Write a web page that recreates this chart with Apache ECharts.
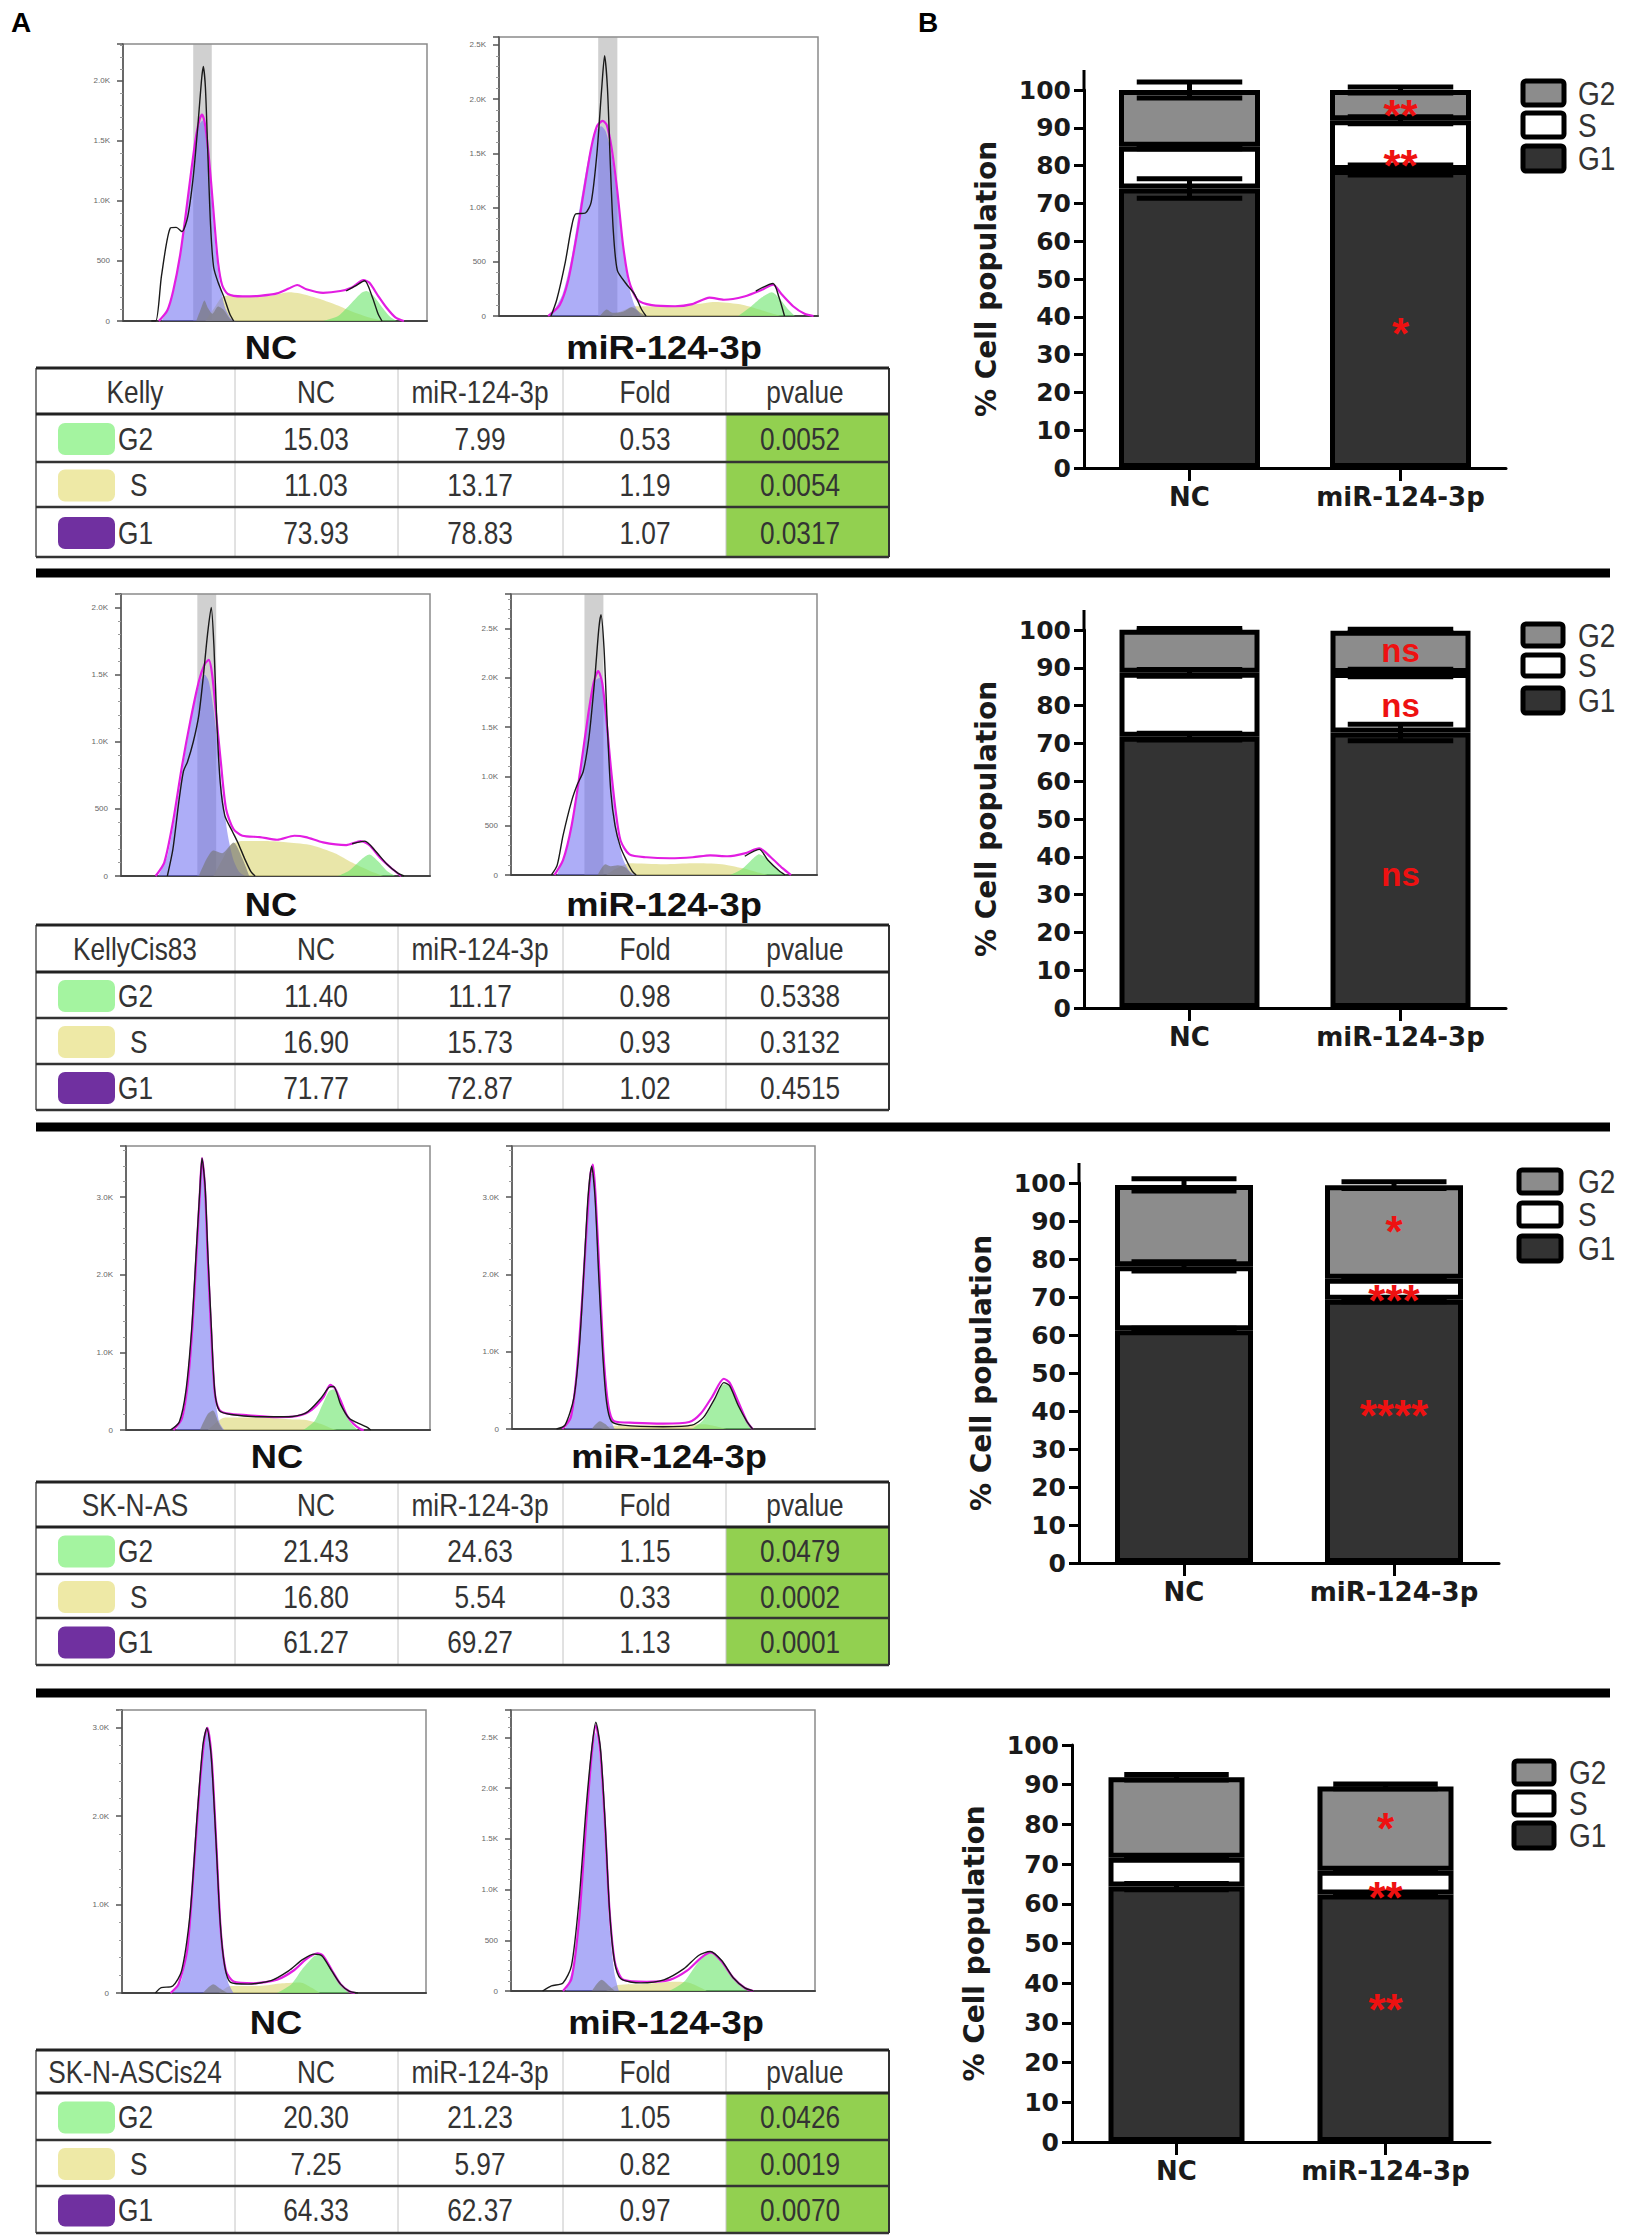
<!DOCTYPE html>
<html>
<head>
<meta charset="utf-8">
<script src="https://cdn.jsdelivr.net/npm/echarts@6/dist/echarts.min.js"></script>
<style>
html, body { margin: 0; padding: 0; background: #fff; }
#main { width: 1645px; height: 2237px; }
</style>
</head>
<body>
<div id="main"></div>
<script>
// ---- cell cycle percentages, [NC, miR-124-3p] ----
var groups = ['NC', 'miR-124-3p'];
var phaseNames = ['G2', 'S', 'G1'];

var kellyG1 = [73.93, 78.83], kellyS = [11.03, 13.17], kellyG2 = [15.03, 7.99];
var kellyFold = [0.53, 1.19, 1.07], kellyP = [0.0052, 0.0054, 0.0317];
var kellyErr = {g1: [2.6, 1.3], s: [0.5, 0.9], g2: [2.1, 0.8]};
var kellyNotes = ['*', '**', '**'], kellyNoteY = [38.3, 82.7, 96];

var cis83G1 = [71.77, 72.87], cis83S = [16.90, 15.73], cis83G2 = [11.40, 11.17];
var cis83Fold = [0.98, 0.93, 1.02], cis83P = [0.5338, 0.3132, 0.4515];
var cis83Err = {g1: [0.9, 2.2], s: [0.9, 1.0], g2: [0.3, 0.4]};
var cis83Notes = ['ns', 'ns', 'ns'], cis83NoteY = [35.4, 80, 94.5];

var asG1 = [61.27, 69.27], asS = [16.80, 5.54], asG2 = [21.43, 24.63];
var asFold = [1.15, 0.33, 1.13], asP = [0.0479, 0.0002, 0.0001];
var asErr = {g1: [0.5, 0.5], s: [1.2, 0.4], g2: [1.6, 0.9]};
var asNotes = ['****', '***', '*'], asNoteY = [41.4, 71.7, 89.8];

var cis24G1 = [64.33, 62.37], cis24S = [7.25, 5.97], cis24G2 = [20.30, 21.23];
var cis24Fold = [1.05, 0.82, 0.97], cis24P = [0.0426, 0.0019, 0.0070];
var cis24Err = {g1: [0.8, 0.2], s: [0.2, 0.2], g2: [0.7, 0.6]};
var cis24Notes = ['**', '**', '*'], cis24NoteY = [35.8, 64, 81.6];

// ---- DNA histograms: [channel % of plot width, count] ----
var kellyNcBlack = [[9.3,0],[10.8,0],[12.7,384],[15.6,775],[17.5,780],[19.4,745],[21.3,870],[23.1,1200],[24.7,1650],[25.8,2000],[26.4,2120],[27.1,1950],[27.9,1400],[28.8,800],[29.8,450],[31.3,320],[33.2,200],[35.1,60],[36.4,0],[50,null],[73.4,250],[76.3,290],[79.5,335],[82.0,200],[83.9,60],[85.2,0]];
var kellyNcFit = [[11.8,0],[14.6,90],[16.5,250],[18.8,550],[20.7,900],[22.6,1280],[24.1,1550],[25.2,1680],[26.0,1720],[26.9,1650],[27.9,1450],[29.0,1150],[30.2,780],[31.3,480],[32.6,300],[34.5,225],[39.3,205],[45.0,210],[50.7,230],[54.5,270],[57.3,300],[60.3,265],[65.8,235],[71.5,250],[75.3,280],[79.1,340],[81.0,320],[83.9,210],[86.7,110],[89.6,30],[92.4,0]];
var kellyNcG1 = [[12.7,0],[15.6,150],[18.4,480],[20.7,880],[22.8,1270],[24.3,1550],[25.4,1650],[26.2,1670],[27.1,1580],[28.2,1300],[29.4,950],[30.7,550],[32.1,280],[33.6,110],[35.5,20],[37.0,0]];
var kellyNcS = [[27.1,0],[29.8,100],[32.6,200],[35.5,215],[41.2,200],[48.8,210],[54.5,240],[58.3,230],[64.0,190],[69.6,140],[75.3,80],[81.0,30],[85.8,0]];
var kellyNcG2 = [[65.8,0],[70.6,40],[74.4,130],[78.2,230],[80.1,250],[82.0,220],[84.8,130],[87.7,40],[90.1,0]];
var kellyNcDebris = [[24.1,0],[25.6,100],[26.8,170],[27.9,110],[29.4,60],[31.3,120],[33.2,90],[35.1,20],[36.4,0]];
var kellyNcGate = [[23.1, 29.2]];

var kellyMirBlack = [[16.3,0],[18.1,150],[20.8,500],[22.6,800],[24.0,940],[27.1,950],[28.9,1050],[30.7,1500],[32.2,2100],[33.1,2400],[34.0,2100],[34.9,1400],[35.8,800],[37.1,420],[39.8,300],[42.5,200],[44.7,60],[46.1,0],[60,null],[80.5,230],[85.9,300],[87.7,180],[89.5,0]];
var kellyMirFit = [[15.4,0],[19.0,100],[21.7,330],[24.4,750],[26.6,1150],[28.9,1550],[30.7,1750],[32.5,1800],[33.8,1760],[35.3,1550],[37.1,1150],[38.9,650],[40.7,330],[43.4,150],[47.9,100],[55.2,90],[60.6,110],[66.0,170],[70.5,150],[76.9,180],[82.3,240],[85.9,290],[88.6,200],[92.2,90],[95.8,20],[98.6,0]];
var kellyMirG1 = [[16.3,0],[19.9,200],[22.6,520],[25.3,1000],[28.0,1450],[30.2,1700],[32.0,1750],[33.5,1700],[35.3,1480],[37.1,1100],[38.9,620],[40.7,280],[42.5,100],[44.7,0]];
var kellyMirS = [[35.3,0],[38.9,50],[42.5,90],[51.5,90],[60.6,105],[67.8,130],[75.0,110],[80.5,70],[85.9,20],[88.6,0]];
var kellyMirG2 = [[75.0,0],[78.7,80],[82.3,170],[85.5,220],[87.7,170],[90.4,70],[92.8,0]];
var kellyMirDebris = [[31.6,0],[33.8,60],[35.6,30],[38.9,40],[41.6,80],[43.9,40],[46.1,0]];
var kellyMirGate = [[31.1, 37.1]];

var cis83NcBlack = [[15.0,0],[16.8,200],[18.7,550],[20.2,780],[21.5,850],[23.4,1000],[25.2,1200],[26.7,1500],[28.0,1800],[29.2,2000],[30.1,1700],[31.0,1150],[32.1,700],[33.6,450],[36.1,330],[37.8,250],[40.2,120],[42.1,30],[43.4,0],[60,null],[74.8,240],[78.9,260],[82.2,190],[86.0,90],[89.7,20],[91.6,0]];
var cis83NcFit = [[11.2,0],[14.0,100],[16.8,400],[19.6,800],[22.4,1150],[25.2,1450],[27.1,1580],[28.4,1610],[29.5,1500],[30.8,1200],[32.3,850],[34.0,500],[36.4,350],[39.3,300],[44.9,290],[50.5,270],[56.1,300],[59.8,290],[65.4,250],[72.9,230],[77.6,260],[80.4,230],[84.1,130],[87.9,50],[90.7,0]];
var cis83NcG1 = [[12.1,0],[15.0,150],[17.8,500],[20.6,900],[23.4,1250],[25.6,1450],[27.1,1500],[28.4,1450],[29.9,1250],[31.4,950],[32.9,600],[34.6,300],[36.4,120],[38.3,30],[40.2,0]];
var cis83NcS = [[29.9,0],[32.7,120],[35.5,230],[39.3,260],[46.7,260],[54.2,250],[61.7,230],[69.2,170],[74.8,100],[80.4,40],[85.0,0]];
var cis83NcG2 = [[70.1,0],[73.8,40],[77.6,120],[80.4,160],[83.2,110],[86.0,40],[88.8,0]];
var cis83NcDebris = [[25.2,0],[29.9,190],[32.7,170],[36.4,250],[39.3,130],[41.5,0]];
var cis83NcGate = [[24.7, 30.8]];

var cis83MirBlack = [[13.2,0],[15.1,100],[17.0,400],[19.8,750],[21.7,920],[23.6,1050],[25.5,1400],[27.4,2000],[28.7,2500],[29.4,2640],[30.4,2300],[31.5,1500],[32.6,850],[34.0,500],[35.8,280],[37.7,150],[39.6,40],[40.9,0],[60,null],[76.4,190],[81.1,260],[84.0,150],[87.7,40],[89.6,0]];
var cis83MirFit = [[14.2,0],[17.0,150],[19.8,500],[22.6,1050],[25.1,1600],[27.0,1950],[28.5,2070],[29.8,1950],[31.1,1600],[32.6,1100],[34.2,650],[35.8,350],[38.7,210],[44.3,180],[51.9,170],[59.4,180],[65.1,200],[70.8,190],[76.4,220],[81.1,270],[84.9,180],[88.7,70],[91.5,0]];
var cis83MirG1 = [[15.1,0],[17.9,250],[20.8,650],[23.6,1250],[25.8,1700],[27.5,1970],[28.9,2000],[30.2,1850],[31.5,1450],[33.0,900],[34.5,480],[36.4,180],[38.7,40],[40.6,0]];
var cis83MirS = [[31.1,0],[34.0,60],[38.7,120],[50.0,110],[59.4,120],[68.9,110],[75.5,70],[80.2,30],[84.0,0]];
var cis83MirG2 = [[71.7,0],[75.5,60],[79.2,170],[81.1,210],[83.0,180],[85.8,90],[88.7,20],[90.0,0]];
var cis83MirDebris = [[28.3,0],[30.8,110],[32.6,90],[34.9,100],[37.2,80],[39.6,0]];
var cis83MirGate = [[24.0, 30.2]];

var asNcBlack = [[14.6,0],[17.5,100],[19.7,500],[21.6,1300],[23.1,2300],[24.3,3100],[25.0,3500],[26.0,3150],[26.9,2300],[28.1,1300],[29.2,500],[30.7,250],[34.5,200],[44.0,170],[53.5,170],[59.2,220],[63.9,400],[66.8,550],[68.3,560],[70.6,330],[73.4,150],[76.3,90],[79.1,40],[80.5,0]];
var asNcFit = [[15.6,0],[18.4,150],[20.3,600],[21.8,1300],[23.1,2200],[24.3,3050],[25.0,3500],[26.0,3100],[26.9,2200],[28.1,1200],[29.2,480],[30.7,260],[33.6,210],[40.2,190],[49.7,165],[56.4,180],[61.1,260],[64.9,420],[67.2,580],[68.7,540],[70.6,380],[72.5,200],[74.8,80],[77.2,10],[78.2,0]];
var asNcG1 = [[16.5,0],[19.0,200],[20.7,700],[22.2,1500],[23.5,2500],[24.5,3200],[25.2,3450],[26.2,3050],[27.1,2100],[28.3,1100],[29.4,400],[30.7,100],[32.3,0]];
var asNcS = [[26.9,0],[29.8,100],[32.6,160],[44.0,160],[53.5,140],[59.2,130],[64.0,80],[67.7,20],[69.6,0]];
var asNcG2 = [[58.3,0],[62.1,120],[64.9,350],[66.8,500],[68.3,520],[70.2,380],[72.5,180],[74.8,50],[76.3,0]];
var asNcDebris = [[24.3,0],[26.8,200],[28.6,250],[30.6,80],[31.9,0]];

var asMirBlack = [[14.7,0],[17.5,50],[20.4,400],[22.3,1100],[23.8,2100],[25.1,3000],[26.3,3400],[27.4,3000],[28.6,2000],[29.9,1000],[31.2,350],[32.8,100],[36.6,50],[49.9,30],[59.4,50],[63.2,150],[67.0,400],[69.9,600],[71.8,560],[74.7,300],[77.5,100],[79.4,0]];
var asMirFit = [[16.6,0],[19.4,150],[21.3,700],[23.2,1700],[24.8,2700],[25.9,3300],[26.7,3420],[27.6,3000],[29.0,1900],[30.3,900],[31.8,300],[33.7,100],[40.4,80],[49.9,70],[58.5,90],[62.3,200],[66.1,420],[69.9,650],[71.8,600],[74.7,350],[77.5,100],[79.4,0]];
var asMirG1 = [[17.5,0],[19.8,250],[21.7,900],[23.4,1900],[24.9,2900],[26.1,3300],[27.0,3300],[28.2,2600],[29.3,1700],[30.9,700],[32.4,150],[33.9,0]];
var asMirS = [[29.0,0],[32.8,40],[40.4,50],[55.6,50],[63.2,60],[67.9,30],[70.9,0]];
var asMirG2 = [[59.4,0],[63.2,120],[67.0,380],[69.9,580],[71.8,560],[74.7,320],[77.5,90],[79.4,0]];
var asMirDebris = [[26.3,0],[29.0,100],[30.9,60],[32.4,0]];

var cis24NcBlack = [[11.0,0],[12.9,60],[16.7,80],[19.6,250],[22.4,900],[24.7,2000],[26.6,2800],[27.9,3000],[29.3,2700],[30.8,1800],[32.3,800],[33.8,300],[35.7,120],[41.4,100],[49.0,140],[54.8,250],[59.5,380],[63.3,440],[65.8,420],[69.0,250],[71.9,100],[74.7,20],[77.6,0]];
var cis24NcFit = [[16.0,0],[18.6,100],[21.5,500],[23.8,1500],[25.7,2400],[27.2,2900],[28.1,3000],[29.5,2650],[31.0,1700],[32.5,700],[34.2,250],[36.7,130],[43.3,110],[51.0,150],[56.7,260],[60.5,380],[64.3,450],[66.2,420],[69.0,260],[71.9,100],[74.7,20],[76.6,0]];
var cis24NcG1 = [[16.7,0],[19.6,150],[22.1,700],[24.3,1700],[26.2,2600],[27.6,2950],[28.7,2900],[30.0,2300],[31.6,1300],[33.1,500],[34.8,130],[36.7,0]];
var cis24NcS = [[31.9,0],[35.7,80],[45.2,80],[52.8,110],[58.6,120],[62.4,60],[65.2,0]];
var cis24NcG2 = [[51.0,0],[55.7,100],[59.5,280],[63.3,420],[65.2,430],[68.1,300],[71.0,130],[73.8,30],[75.7,0]];
var cis24NcDebris = [[26.6,0],[30.0,100],[32.3,50],[34.6,0]];

var cis24MirBlack = [[10.4,0],[13.3,50],[17.1,80],[19.9,250],[22.4,900],[24.7,1800],[26.6,2400],[27.9,2650],[29.4,2400],[30.9,1700],[32.4,800],[34.0,300],[36.1,120],[42.7,80],[50.3,110],[56.9,220],[61.7,350],[65.5,390],[69.3,300],[73.1,130],[76.9,30],[79.7,0]];
var cis24MirFit = [[17.1,0],[19.9,120],[22.4,700],[24.7,1650],[26.6,2350],[27.9,2620],[29.4,2350],[30.9,1650],[32.4,800],[34.2,280],[37.0,110],[44.6,90],[52.2,110],[57.9,200],[62.6,330],[65.8,380],[69.3,290],[73.1,130],[76.9,30],[79.7,0]];
var cis24MirG1 = [[18.0,0],[20.5,250],[22.8,900],[24.9,1750],[26.6,2300],[27.9,2550],[29.4,2250],[30.9,1500],[32.4,650],[34.0,180],[35.5,0]];
var cis24MirS = [[31.3,0],[35.1,60],[44.6,70],[54.1,90],[58.8,80],[62.6,30],[64.5,0]];
var cis24MirG2 = [[52.2,0],[56.9,90],[60.7,250],[64.5,370],[66.4,380],[69.3,290],[73.1,120],[76.9,20],[78.7,0]];
var cis24MirDebris = [[26.6,0],[29.8,110],[32.3,50],[34.2,0]];

// ---- layout ----
var NARROW = '"Liberation Sans", Arial, sans-serif';
var BOLD = '"DejaVu Sans", sans-serif';
var COLS = [36, 235, 398, 563, 726, 889];
var COL_MID = [135, 316, 480, 645, 805];

var histPanels = [
  {box: [123, 44, 427, 321], yMax: 2308, step: 500, gate: kellyNcGate, black: kellyNcBlack, fit: kellyNcFit, g1: kellyNcG1, s: kellyNcS, g2: kellyNcG2, debris: kellyNcDebris},
  {box: [499, 37, 818, 316], yMax: 2573, step: 500, gate: kellyMirGate, black: kellyMirBlack, fit: kellyMirFit, g1: kellyMirG1, s: kellyMirS, g2: kellyMirG2, debris: kellyMirDebris},
  {box: [121, 594, 430, 876], yMax: 2101, step: 500, gate: cis83NcGate, black: cis83NcBlack, fit: cis83NcFit, g1: cis83NcG1, s: cis83NcS, g2: cis83NcG2, debris: cis83NcDebris},
  {box: [511, 594, 817, 875], yMax: 2851, step: 500, gate: cis83MirGate, black: cis83MirBlack, fit: cis83MirFit, g1: cis83MirG1, s: cis83MirS, g2: cis83MirG2, debris: cis83MirDebris},
  {box: [126, 1146, 430, 1430], yMax: 3657, step: 1000, gate: null, black: asNcBlack, fit: asNcFit, g1: asNcG1, s: asNcS, g2: asNcG2, debris: asNcDebris},
  {box: [512, 1146, 815, 1429], yMax: 3660, step: 1000, gate: null, black: asMirBlack, fit: asMirFit, g1: asMirG1, s: asMirS, g2: asMirG2, debris: asMirDebris},
  {box: [122, 1710, 426, 1993], yMax: 3202, step: 1000, gate: null, black: cis24NcBlack, fit: cis24NcFit, g1: cis24NcG1, s: cis24NcS, g2: cis24NcG2, debris: cis24NcDebris},
  {box: [511, 1710, 815, 1991], yMax: 2771, step: 500, gate: null, black: cis24MirBlack, fit: cis24MirFit, g1: cis24MirG1, s: cis24MirS, g2: cis24MirG2, debris: cis24MirDebris}
];

var sections = [
  {name: 'Kelly', g1: kellyG1, s: kellyS, g2: kellyG2, fold: kellyFold, p: kellyP, err: kellyErr, notes: kellyNotes, noteY: kellyNoteY,
   labelY: 348, labelX: [271, 664], table: [368, 414, 462, 507, 557],
   bars: {left: 1084, top: 90, width: 422, bottom: 468, barW: 141, ext: 70, nameGap: 84},
   legend: {x: 1523, w: 41, ys: [[81, 105], [113, 137], [146, 171]], tx: 1578}},
  {name: 'KellyCis83', g1: cis83G1, s: cis83S, g2: cis83G2, fold: cis83Fold, p: cis83P, err: cis83Err, notes: cis83Notes, noteY: cis83NoteY,
   labelY: 905, labelX: [271, 664], table: [925, 972, 1018, 1064, 1110],
   bars: {left: 1084, top: 630, width: 422, bottom: 1008, barW: 140, ext: 610, nameGap: 84},
   legend: {x: 1523, w: 40, ys: [[624, 646], [655, 676], [688, 713]], tx: 1578}},
  {name: 'SK-N-AS', g1: asG1, s: asS, g2: asG2, fold: asFold, p: asP, err: asErr, notes: asNotes, noteY: asNoteY,
   labelY: 1457, labelX: [277, 669], table: [1482, 1527, 1574, 1618, 1665],
   bars: {left: 1079, top: 1183, width: 420, bottom: 1563, barW: 138, ext: 1163, nameGap: 84},
   legend: {x: 1519, w: 42, ys: [[1170, 1193], [1203, 1226], [1236, 1261]], tx: 1578}},
  {name: 'SK-N-ASCis24', g1: cis24G1, s: cis24S, g2: cis24G2, fold: cis24Fold, p: cis24P, err: cis24Err, notes: cis24Notes, noteY: cis24NoteY,
   labelY: 2023, labelX: [276, 666], table: [2050, 2093, 2140, 2186, 2233],
   bars: {left: 1072, top: 1745, width: 418, bottom: 2142, barW: 136, ext: null, nameGap: 84},
   legend: {x: 1514, w: 40, ys: [[1761, 1784], [1792, 1815], [1823, 1848]], tx: 1569}}
];
var separators = [573, 1127, 1693];

var grids = [], xAxes = [], yAxes = [], series = [], graphics = [];

function textEl(x, y, s, font, fill, align, sx) {
  return {type: 'text', x: x, y: y, scaleX: sx || 1, silent: true,
    style: {text: s, font: font, fill: fill || '#333', textAlign: align || 'center', align: align || 'center',
      textVerticalAlign: 'middle', verticalAlign: 'middle'}};
}
function lineEl(x1, y1, x2, y2, w, color) {
  return {type: 'line', silent: true, shape: {x1: x1, y1: y1, x2: x2, y2: y2}, style: {stroke: color, lineWidth: w}};
}
function rectEl(x, y, w, h, fill, r, stroke, lw) {
  return {type: 'rect', silent: true, shape: {x: x, y: y, width: w, height: h, r: r || 0},
    style: {fill: fill, stroke: stroke || null, lineWidth: lw || 0}};
}
function kFmt(v) {
  return v === 0 ? '0' : v < 1000 ? String(v) : (v / 1000).toFixed(1) + 'K';
}
function gateItem(params, api) {
  var a = api.coord([api.value(0), 0]);
  var b = api.coord([api.value(1), 0]);
  var cs = params.coordSys;
  return {type: 'rect', shape: {x: a[0], y: cs.y, width: b[0] - a[0], height: cs.height},
    style: {fill: 'rgba(150,150,150,0.45)'}};
}

function addHist(p) {
  var gi = grids.length;
  grids.push({left: p.box[0], top: p.box[1], width: p.box[2] - p.box[0], height: p.box[3] - p.box[1],
    show: true, borderColor: '#8a8a8a', borderWidth: 1.5, backgroundColor: 'transparent', containLabel: false});
  xAxes.push({gridIndex: gi, type: 'value', min: 0, max: 100,
    axisLine: {show: true, onZero: false, lineStyle: {color: '#444', width: 2}},
    axisTick: {show: false}, axisLabel: {show: false}, splitLine: {show: false}});
  yAxes.push({gridIndex: gi, type: 'value', min: 0, max: p.yMax, interval: p.step,
    axisLine: {show: true, lineStyle: {color: '#555', width: 1.5}},
    axisTick: {show: true, length: 6, lineStyle: {color: '#555', width: 1.5}},
    minorTick: {show: true, splitNumber: 5, length: 3, lineStyle: {color: '#999'}},
    axisLabel: {fontSize: 8, color: '#666', margin: 13, showMaxLabel: false, formatter: kFmt},
    splitLine: {show: false}, minorSplitLine: {show: false}});
  function area(data, color, z) {
    return {type: 'line', xAxisIndex: gi, yAxisIndex: gi, data: data, showSymbol: false, symbol: 'none',
      smooth: 0.25, silent: true, z: z, lineStyle: {width: 0, opacity: 0}, areaStyle: {color: color, opacity: 1}};
  }
  function trace(data, color, w, z) {
    return {type: 'line', xAxisIndex: gi, yAxisIndex: gi, data: data, showSymbol: false, symbol: 'none',
      smooth: 0.25, silent: true, z: z, connectNulls: false, lineStyle: {color: color, width: w}};
  }
  if (p.gate) {
    series.push({type: 'custom', xAxisIndex: gi, yAxisIndex: gi, data: p.gate, renderItem: gateItem, silent: true, z: 1});
  }
  series.push(area(p.s, 'rgba(226,221,140,0.75)', 2));
  series.push(area(p.g2, 'rgba(105,228,105,0.6)', 3));
  series.push(area(p.g1, 'rgba(105,105,240,0.55)', 4));
  series.push(area(p.debris, 'rgba(120,120,120,0.65)', 5));
  series.push(trace(p.fit, '#e21de2', 2.2, 6));
  series.push(trace(p.black, '#1a1a1a', 1.4, 7));
}

function errItem(tops, errs) {
  return function (params, api) {
    var i = api.value(0);
    var hi = api.coord([i, tops[params.dataIndex] + errs[params.dataIndex]]);
    var lo = api.coord([i, tops[params.dataIndex] - errs[params.dataIndex]]);
    var half = api.size([1, 0])[0] * 0.25;
    var st = {stroke: '#000', lineWidth: 5};
    return {type: 'group', children: [
      {type: 'line', shape: {x1: hi[0], y1: hi[1], x2: lo[0], y2: lo[1]}, style: st},
      {type: 'line', shape: {x1: hi[0] - half, y1: hi[1], x2: hi[0] + half, y2: hi[1]}, style: st},
      {type: 'line', shape: {x1: lo[0] - half, y1: lo[1], x2: lo[0] + half, y2: lo[1]}, style: st}
    ]};
  };
}

function addBars(sec) {
  var b = sec.bars, gi = grids.length;
  grids.push({left: b.left, top: b.top, width: b.width, height: b.bottom - b.top, show: false, containLabel: false});
  xAxes.push({gridIndex: gi, type: 'category', data: groups,
    axisLine: {show: true, lineStyle: {color: '#000', width: 3}},
    axisTick: {show: true, alignWithLabel: true, length: 13, lineStyle: {color: '#000', width: 3}},
    axisLabel: {interval: 0, hideOverlap: false, fontFamily: BOLD, fontWeight: 'bold', fontSize: 26, color: '#1a1a1a', margin: 16},
    splitLine: {show: false}});
  yAxes.push({gridIndex: gi, type: 'value', min: 0, max: 100, interval: 10,
    name: '% Cell population', nameLocation: 'middle', nameGap: b.nameGap,
    nameTextStyle: {fontFamily: BOLD, fontWeight: 'bold', fontSize: 28, color: '#1a1a1a'},
    axisLine: {show: true, lineStyle: {color: '#000', width: 3}},
    axisTick: {show: true, length: 10, lineStyle: {color: '#000', width: 3}},
    axisLabel: {fontFamily: BOLD, fontWeight: 'bold', fontSize: 25, color: '#1a1a1a', margin: 13},
    splitLine: {show: false}});
  var stack = [sec.g1, sec.s, sec.g2];
  var errs = [sec.err.g1, sec.err.s, sec.err.g2];
  var fills = ['#333333', '#ffffff', '#8c8c8c'];
  var base = [0, 0];
  stack.forEach(function (vals, k) {
    series.push({type: 'bar', xAxisIndex: gi, yAxisIndex: gi, stack: 'cells' + gi, data: vals, barWidth: b.barW,
      silent: true, z: 2, itemStyle: {color: fills[k], borderColor: '#000', borderWidth: 5}});
    var tops = [base[0] + vals[0], base[1] + vals[1]];
    base = tops;
    series.push({type: 'custom', xAxisIndex: gi, yAxisIndex: gi, silent: true, z: 4,
      data: [[0, tops[0]], [1, tops[1]]], renderItem: errItem(tops, errs[k])});
  });
  var notes = sec.notes;
  series.push({type: 'custom', xAxisIndex: gi, yAxisIndex: gi, silent: true, z: 6,
    data: sec.noteY.map(function (y) { return [1, y]; }),
    renderItem: function (params, api) {
      var t = notes[params.dataIndex];
      var pt = api.coord([1, api.value(1)]);
      var star = t.charAt(0) === '*';
      return {type: 'text', x: pt[0], y: pt[1] + (star ? 10 : 0),
        style: {text: t, fill: '#ee1111', font: 'bold ' + (star ? 44 : 33) + 'px ' + NARROW,
          textAlign: 'center', align: 'center', textVerticalAlign: 'middle', verticalAlign: 'middle'}};
    }});
  if (b.ext !== null) graphics.push(lineEl(b.left, b.ext, b.left, b.top, 3, '#000'));
  // legend boxes
  var lg = sec.legend, legendFill = ['#8c8c8c', '#ffffff', '#333333'];
  phaseNames.forEach(function (nm, k) {
    var y0 = lg.ys[k][0], y1 = lg.ys[k][1];
    graphics.push(rectEl(lg.x, y0, lg.w, y1 - y0, legendFill[k], 3, '#000', 5));
    graphics.push(textEl(lg.tx, (y0 + y1) / 2, nm, 'normal 33px ' + NARROW, '#333', 'left', 0.85));
  });
}

function addTable(sec) {
  var t = sec.table, top = t[0];
  var nc = [sec.g2[0], sec.s[0], sec.g1[0]];
  var mir = [sec.g2[1], sec.s[1], sec.g1[1]];
  var swatch = ['#a4f4a0', '#eee9a6', '#7030a0'];
  var tf = 'normal 32px ' + NARROW;
  for (var r = 0; r < 3; r++) {
    if (sec.p[r] < 0.05) graphics.push(rectEl(COLS[4], t[r + 1], COLS[5] - COLS[4], t[r + 2] - t[r + 1], '#92d050'));
  }
  for (var c = 1; c < 5; c++) graphics.push(lineEl(COLS[c], top, COLS[c], t[4], 1, '#c4c4c4'));
  graphics.push(lineEl(COLS[0], top, COLS[0], t[4], 1.5, '#555'));
  graphics.push(lineEl(COLS[5], top, COLS[5], t[4], 2, '#333'));
  graphics.push(lineEl(COLS[0], top, COLS[5], top, 3, '#222'));
  graphics.push(lineEl(COLS[0], t[1], COLS[5], t[1], 3, '#222'));
  graphics.push(lineEl(COLS[0], t[2], COLS[5], t[2], 2.5, '#333'));
  graphics.push(lineEl(COLS[0], t[3], COLS[5], t[3], 2.5, '#333'));
  graphics.push(lineEl(COLS[0], t[4], COLS[5], t[4], 2.5, '#333'));
  var hy = (t[0] + t[1]) / 2 + 1;
  [sec.name, 'NC', 'miR-124-3p', 'Fold', 'pvalue'].forEach(function (h, c) {
    graphics.push(textEl(COL_MID[c], hy, h, tf, '#333', 'center', 0.82));
  });
  for (r = 0; r < 3; r++) {
    var y0 = t[r + 1], y1 = t[r + 2], cy = (y0 + y1) / 2 + 1;
    graphics.push(rectEl(58, cy - 16, 57, 32, swatch[r], 7));
    graphics.push(textEl(phaseNames[r] === 'S' ? 130 : 118, cy, phaseNames[r], tf, '#333', 'left', 0.82));
    graphics.push(textEl(COL_MID[1], cy, nc[r].toFixed(2), tf, '#333', 'center', 0.82));
    graphics.push(textEl(COL_MID[2], cy, mir[r].toFixed(2), tf, '#333', 'center', 0.82));
    graphics.push(textEl(COL_MID[3], cy, sec.fold[r].toFixed(2), tf, '#333', 'center', 0.82));
    graphics.push(textEl(800, cy, sec.p[r].toFixed(4), tf, '#333', 'center', 0.82));
  }
  graphics.push(textEl(sec.labelX[0], sec.labelY, 'NC', 'bold 33px ' + NARROW, '#111', 'center', 1.1));
  graphics.push(textEl(sec.labelX[1], sec.labelY, 'miR-124-3p', 'bold 33px ' + NARROW, '#111', 'center', 1.1));
}

histPanels.forEach(addHist);
sections.forEach(function (sec) { addTable(sec); addBars(sec); });
separators.forEach(function (y) { graphics.push(lineEl(36, y, 1610, y, 9, '#000')); });
graphics.push(textEl(21, 22, 'A', 'bold 28px ' + NARROW, '#000'));
graphics.push(textEl(928, 22, 'B', 'bold 28px ' + NARROW, '#000'));

var chart = echarts.init(document.getElementById('main'), null, {renderer: 'svg', width: 1645, height: 2237});
chart.setOption({
  animation: false,
  backgroundColor: '#ffffff',
  grid: grids,
  xAxis: xAxes,
  yAxis: yAxes,
  series: series,
  graphic: {elements: graphics}
});
</script>
</body>
</html>
